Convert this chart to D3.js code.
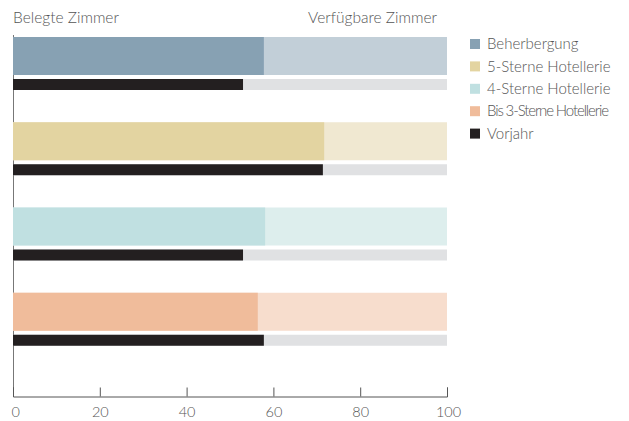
<!DOCTYPE html>
<html>
<head>
<meta charset="utf-8">
<script src="https://cdn.jsdelivr.net/npm/d3@7"></script>
<style>
body { margin: 0; background: #fff; }
svg text { font-family: Lato, "Open Sans", sans-serif; font-weight: 300; fill: #555; }
</style>
</head>
<body>
<svg id="chart" width="629" height="421"></svg>
<script>
var categories = ["Beherbergung", "5-Sterne Hotellerie", "4-Sterne Hotellerie", "Bis 3-Sterne Hotellerie"];
var belegt = [57.8, 71.7, 58.1, 56.4];
var vorjahr = [53.0, 71.4, 53.0, 57.8];
var total = [100, 100, 100, 100];
var darkColors = ["#87a1b3", "#e3d4a1", "#c0e0e1", "#f0bc9b"];
var lightColors = ["#c2cfd8", "#f0e8d1", "#ddeeed", "#f7ddcd"];
var legendLabels = ["Beherbergung", "5-Sterne Hotellerie", "4-Sterne Hotellerie", "Bis 3-Sterne Hotellerie", "Vorjahr"];
var legendColors = ["#87a1b3", "#e3d4a1", "#c0e0e1", "#f0bc9b", "#231f20"];
var xTicks = [0, 20, 40, 60, 80, 100];

var svg = d3.select("#chart");
var margin = {top: 30, left: 13, right: 182, bottom: 24},
	width = 629 - margin.left - margin.right,
	height = 421 - margin.top - margin.bottom;

var g = svg.append("g").attr("transform", "translate(" + margin.left + "," + margin.top + ")");

var x = d3.scaleLinear().domain([0, 100]).range([0, 434]);
var y = d3.scaleBand().domain(categories).range([0, 341]).paddingInner(0).paddingOuter(0);

// left axis line
g.append("line")
	.attr("x1", 0.5).attr("x2", 0.5)
	.attr("y1", 5).attr("y2", height)
	.attr("stroke", "#777").attr("stroke-width", 1);

var groups = g.selectAll(".grp").data(categories)
	.enter().append("g")
	.attr("class", "grp")
	.attr("transform", function(d){ return "translate(0," + (y(d) + 7) + ")"; });

groups.append("rect")
	.attr("x", 0).attr("y", 0)
	.attr("width", function(d, i){ return x(total[i]); })
	.attr("height", 38)
	.attr("fill", function(d, i){ return lightColors[i]; });

groups.append("rect")
	.attr("x", 0).attr("y", 0)
	.attr("width", function(d, i){ return x(belegt[i]); })
	.attr("height", 38)
	.attr("fill", function(d, i){ return darkColors[i]; });

groups.append("rect")
	.attr("x", 0).attr("y", 42)
	.attr("width", function(d, i){ return x(total[i]); })
	.attr("height", 11)
	.attr("fill", "#e0e1e3");

groups.append("rect")
	.attr("x", 0).attr("y", 42)
	.attr("width", function(d, i){ return x(vorjahr[i]); })
	.attr("height", 11)
	.attr("fill", "#231f20");

// bottom axis
var axis = g.append("g")
	.attr("transform", "translate(0," + (height - 0.5) + ")")
	.call(d3.axisTop(x).tickValues(xTicks).tickSize(9).tickFormat(function(d){ return d; }));
axis.select(".domain").attr("stroke", "#555").attr("d", "M0.5,-9V0.5H" + (x(100) + 0.5) + "V-9");
axis.selectAll(".tick line").attr("stroke", "#555");
axis.selectAll(".tick text")
	.attr("y", 10).attr("dy", "0.71em")
	.attr("font-size", 14.5)
	.attr("fill", "#555")
	.style("font-family", "Lato, 'Open Sans', sans-serif")
	.style("font-weight", 300);
axis.selectAll(".tick").filter(function(d){ return d === 0; }).select("text").attr("text-anchor", "start").attr("x", -2);
axis.selectAll(".tick").filter(function(d){ return d === 100; }).select("text").attr("x", 1);

// header labels
svg.append("text").attr("x", 13).attr("y", 23).attr("font-size", 15.5).text("Belegte Zimmer");
svg.append("text").attr("x", 437).attr("y", 23).attr("font-size", 15.5).attr("text-anchor", "end").text("Verfügbare Zimmer");

// legend
var legend = svg.append("g").attr("transform", "translate(470,39)")
	.selectAll("g").data(legendLabels)
	.enter().append("g")
	.attr("transform", function(d, i){ return "translate(0," + (i * 22.4) + ")"; });

legend.append("rect")
	.attr("width", 10).attr("height", 10)
	.attr("fill", function(d, i){ return legendColors[i]; });

legend.append("text")
	.attr("x", 17).attr("y", 5)
	.attr("dy", "0.35em")
	.attr("font-size", 15)
	.text(function(d){ return d; })
	.filter(function(d){ return d === "Bis 3-Sterne Hotellerie"; })
	.attr("textLength", 122)
	.attr("lengthAdjust", "spacing");
</script>
</body>
</html>
